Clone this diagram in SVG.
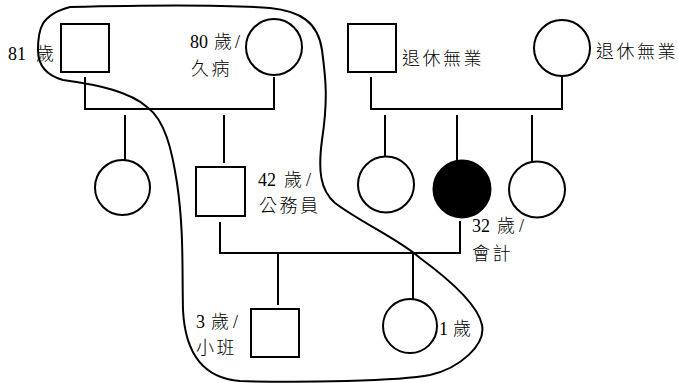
<svg xmlns="http://www.w3.org/2000/svg" width="678" height="383" viewBox="0 0 678 383">
<style>
.n{fill:#fff;stroke:#000;stroke-width:2}
.f{fill:#000;stroke:#000;stroke-width:2}
.c{fill:none;stroke:#000;stroke-width:2}
.b{fill:none;stroke:#000;stroke-width:2}
text{font-family:"Noto Sans CJK TC","Noto Sans CJK SC",sans-serif;font-size:18px;font-weight:300;fill:#000;letter-spacing:2.5px}
.d{font-family:"Liberation Serif",serif;font-size:18px;font-weight:400;letter-spacing:0}
</style>
<rect width="678" height="383" fill="#fff"/>
<g id="connectors">
<path class="c" d="M85,77 V109 H274 V77"/>
<path class="c" d="M125,115 V160"/>
<path class="c" d="M224,115 V163"/>
<path class="c" d="M371,77 V109 H562 V77"/>
<path class="c" d="M385,115 V157"/>
<path class="c" d="M457,115 V161"/>
<path class="c" d="M532,115 V162"/>
<path class="c" d="M220,222 V253 H460 V221"/>
<path class="c" d="M278,253 V305"/>
<path class="c" d="M413,253 V299"/>
</g>
<g id="grandfather-paternal"><rect class="n" x="61" y="24" width="48" height="48"/><text x="8" y="60"><tspan class="d">81</tspan><tspan x="36">歲</tspan></text></g>
<g id="grandmother-paternal"><circle class="n" cx="274" cy="47" r="28"/><text x="190" y="48"><tspan class="d">80</tspan><tspan x="214">歲</tspan><tspan class="d" x="235">/</tspan></text><text x="191" y="75">久病</text></g>
<g id="grandfather-maternal"><rect class="n" x="348" y="24" width="48" height="48"/><text x="402" y="65">退休無業</text></g>
<g id="grandmother-maternal"><circle class="n" cx="562" cy="48" r="28"/><text x="596" y="58">退休無業</text></g>
<g id="aunt-paternal"><circle class="n" cx="122.5" cy="187.5" r="27.5"/></g>
<g id="father"><rect class="n" x="196" y="167" width="49" height="49"/><text x="258" y="186"><tspan class="d">42</tspan><tspan x="284">歲</tspan><tspan class="d" x="306">/</tspan></text><text x="259" y="212">公務員</text></g>
<g id="aunt-maternal-1"><circle class="n" cx="386" cy="184.5" r="28"/></g>
<g id="mother"><circle class="f" cx="462" cy="189" r="28.5"/><text x="472" y="232"><tspan class="d">32</tspan><tspan x="497">歲</tspan><tspan class="d" x="519">/</tspan></text><text x="472" y="260">會計</text></g>
<g id="aunt-maternal-2"><circle class="n" cx="537" cy="189.5" r="28"/></g>
<g id="son"><rect class="n" x="251" y="309" width="48" height="48"/><text x="196" y="328"><tspan class="d">3</tspan><tspan x="211">歲</tspan><tspan class="d" x="233">/</tspan></text><text x="196" y="354">小班</text></g>
<g id="daughter"><circle class="n" cx="410" cy="326" r="27"/><text x="439" y="335"><tspan class="d">1</tspan><tspan x="453">歲</tspan></text></g>
<g id="household">
<path class="b" d="M70,7 C150,5 230,5 270,8 C300,11 318,22 322,50 C326,80 328,100 322,140 C318,170 320,190 335,203 C360,222 400,240 420,258 C450,280 478,305 482,325 C486,345 460,368 430,375 C400,381 300,383 240,381 C200,378 185,350 183,310 C182,270 184,230 177,183 C172,150 165,120 147,107 C130,92 100,85 63,80 C45,75 38,65 38,50 C38,30 40,15 70,7 Z"/>
</g>
</svg>
